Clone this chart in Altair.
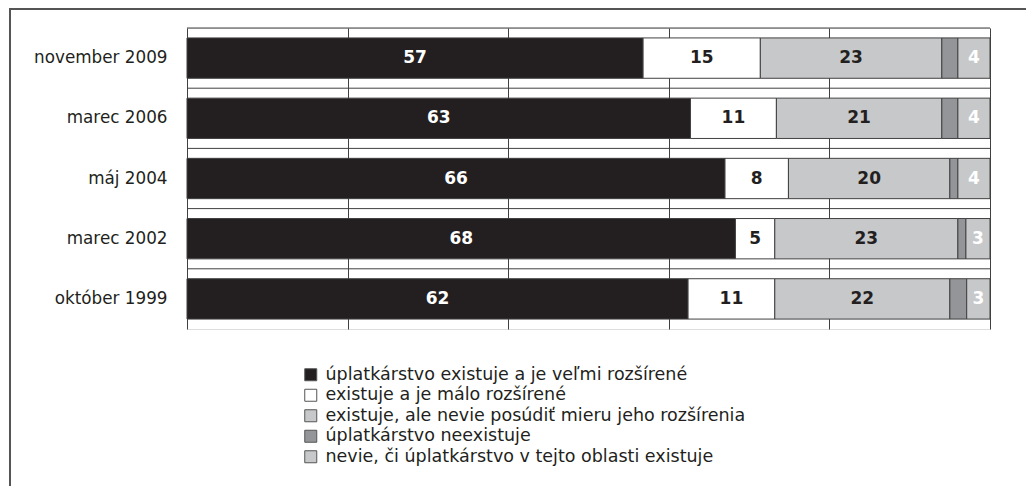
import altair as alt
import pandas as pd

periods = ["november 2009", "marec 2006", "máj 2004", "marec 2002", "október 1999"]
categories = [
    "úplatkárstvo existuje a je veľmi rozšírené",
    "existuje a je málo rozšírené",
    "existuje, ale nevie posúdiť mieru jeho rozšírenia",
    "úplatkárstvo neexistuje",
    "nevie, či úplatkárstvo v tejto oblasti existuje",
]
# segment widths (percent) per category, in period order
very_widespread = [56.8, 62.7, 67.0, 68.3, 62.4]
little_widespread = [14.6, 10.7, 7.9, 4.9, 10.8]
cannot_judge = [22.6, 20.6, 20.1, 22.8, 21.8]
not_exists = [2.0, 2.0, 1.0, 1.0, 2.1]
dont_know = [4.0, 4.0, 4.0, 3.0, 2.9]
# printed labels
lab_very = ["57", "63", "66", "68", "62"]
lab_little = ["15", "11", "8", "5", "11"]
lab_judge = ["23", "21", "20", "23", "22"]
lab_not = ["", "", "", "", ""]
lab_dk = ["4", "4", "4", "3", "3"]

series = [very_widespread, little_widespread, cannot_judge, not_exists, dont_know]
labels = [lab_very, lab_little, lab_judge, lab_not, lab_dk]

rows = []
for ci, (cat, vals, labs) in enumerate(zip(categories, series, labels)):
    for p, v, l in zip(periods, vals, labs):
        rows.append({"period": p, "category": cat, "order": ci, "value": v, "label": l})
df = pd.DataFrame(rows)

colors = ["#231f20", "#ffffff", "#c7c8ca", "#939598", "#c7c8ca"]
FONT = "DejaVu Sans"
LINE = "#404040"

base = alt.Chart(df).transform_stack(
    stack="value", groupby=["period"], as_=["x0", "x1"], sort=[alt.SortField("order")]
).transform_calculate(
    mid="(datum.x0 + datum.x1) / 2",
    tcolor="(datum.order == 0 || datum.order == 4) ? '#ffffff' : '#231f20'",
)

yaxis = alt.Axis(
    title=None, ticks=False, domain=False, labelPadding=20,
    labelFont=FONT, labelFontSize=16.8, labelColor="#231f20",
    grid=False, labelLimit=0,
)
yscale = alt.Scale(domain=periods, paddingInner=0, paddingOuter=0)
yenc = alt.Y("period:N", sort=periods, scale=yscale, axis=yaxis)

xscale = alt.Scale(domain=[0, 100], nice=False)
xaxis = alt.Axis(
    title=None, labels=False, ticks=False, domain=False,
    values=[0, 20, 40, 60, 80, 100], grid=True, gridColor=LINE,
    gridOpacity=1, gridWidth=1,
)

# horizontal separators at the band boundaries
seps = alt.Chart(pd.DataFrame({"period": periods})).mark_rule(
    color=LINE, strokeWidth=1
).encode(
    y=alt.Y("period:N", sort=periods, scale=yscale, axis=yaxis, bandPosition=0),
    x=alt.datum(0, scale=xscale, axis=xaxis),
    x2=alt.datum(100),
)

bars = base.mark_bar(height={"band": 0.67}, stroke=LINE, strokeWidth=1).encode(
    x=alt.X("x0:Q", scale=xscale, axis=xaxis),
    x2="x1:Q",
    y=yenc,
    color=alt.Color(
        "category:N",
        sort=categories,
        scale=alt.Scale(domain=categories, range=colors),
        legend=alt.Legend(
            orient="none", legendX=115, legendY=338, title=None,
            symbolType="square", symbolSize=144, symbolStrokeColor="#555555",
            symbolStrokeWidth=1, labelFont=FONT, labelFontSize=17.5,
            labelColor="#231f20", rowPadding=1.5, padding=0, labelLimit=0,
            labelOffset=6,
        ),
    ),
)

texts = base.mark_text(
    font=FONT, fontWeight="bold", fontSize=17, baseline="middle", align="center"
).encode(
    x=alt.X("mid:Q", scale=xscale, axis=xaxis),
    y=yenc,
    text="label:N",
    color=alt.Color("tcolor:N", scale=None),
)

frame = alt.Chart(pd.DataFrame({"a": [0]})).mark_rect(
    fillOpacity=0, stroke="#555555", strokeWidth=2
).encode(
    x=alt.value(-177), x2=alt.value(900), y=alt.value(-19), y2=alt.value(600)
)

chart = alt.layer(frame, seps, bars, texts).properties(
    width=803, height=301,
    padding={"left": 179, "top": 20, "right": 36, "bottom": 157},
    autosize=alt.AutoSizeParams(type="none"),
).configure_view(stroke=LINE, strokeWidth=1).configure(background="white")

chart.save("out.html", embed_options={"renderer": "svg", "actions": False})
